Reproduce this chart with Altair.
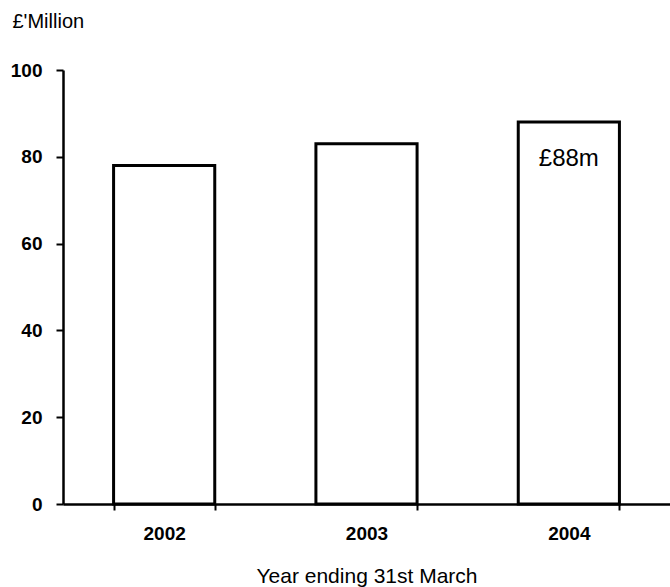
import altair as alt
import pandas as pd

years = ["2002", "2003", "2004"]
values = [78, 83, 88]
labels = ["", "", "£88m"]

df = pd.DataFrame({"year": years, "value": values, "label": labels})

FONT = "Liberation Sans"

base = alt.Chart(df)

bars = base.mark_bar(fill="white", stroke="black", strokeWidth=3).encode(
    x=alt.X(
        "year:N",
        sort=years,
        scale=alt.Scale(paddingInner=0.5, paddingOuter=0.25),
        axis=alt.Axis(
            title="Year ending 31st March",
            labelAngle=0,
            labelFont=FONT,
            labelFontSize=19,
            labelFontWeight="bold",
            labelColor="black",
            labelPadding=14,
            tickBand="extent",
            tickSize=6,
            tickWidth=2,
            tickColor="black",
            domainColor="black",
            domainWidth=2.5,
            titleFont=FONT,
            titleFontSize=21,
            titleFontWeight="normal",
            titleColor="black",
            titlePadding=22,
        ),
    ),
    y=alt.Y(
        "value:Q",
        scale=alt.Scale(domain=[0, 100], nice=False),
        axis=alt.Axis(
            values=[0, 20, 40, 60, 80, 100],
            title="£'Million",
            titleAngle=0,
            titleAlign="left",
            titleBaseline="alphabetic",
            titleX=-51,
            titleY=-43,
            titleFont=FONT,
            titleFontSize=20,
            titleFontWeight="normal",
            titleColor="black",
            labelFont=FONT,
            labelFontSize=19,
            labelFontWeight="bold",
            labelColor="black",
            labelPadding=14,
            tickSize=7,
            tickWidth=2,
            tickColor="black",
            domainColor="black",
            domainWidth=2.5,
            grid=False,
        ),
    ),
)

text = base.mark_text(
    font=FONT, fontSize=24, color="black", baseline="middle", dy=37
).encode(
    x=alt.X("year:N", sort=years),
    y=alt.Y("value:Q"),
    text="label:N",
)

chart = (
    alt.layer(bars, text)
    .properties(
        width=607,
        height=434,
        autosize=alt.AutoSizeParams(type="none"),
        padding={"left": 63, "top": 70, "right": 0, "bottom": 83},
        background="white",
    )
    .configure_view(stroke=None)
)

chart.save("out.html", embed_options={"renderer": "svg", "actions": False})
